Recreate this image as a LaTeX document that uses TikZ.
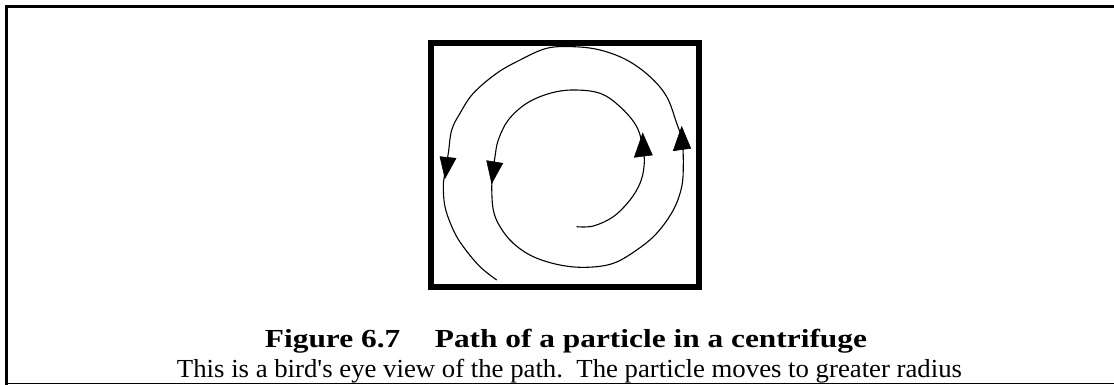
\documentclass[tikz,border=0pt]{standalone}
\usepackage{fontspec}
\usepackage{graphicx}
\setmainfont{Liberation Serif}[Ligatures=TeXOff]
\begin{document}
\begin{tikzpicture}[x=0.5pt,y=-0.5pt,
  frame/.style={line width=1.5pt},
  thinframe/.style={line width=0.7pt},
  boxline/.style={line width=3pt},
  pathline/.style={line width=0.55pt},
  head/.style={fill=black,draw=black,line width=0.3pt,line join=miter}]
\useasboundingbox (0,0) rectangle (1114,385);
% outer frame
\draw[frame] (1114,6.5) -- (6.5,6.5) -- (6.5,385);
\draw[thinframe] (5,383.5) -- (1114,383.5);
% inner box
\draw[boxline] (431,43) rectangle (699,287);
% spiral path
\draw[pathline] plot[smooth,tension=0.6] coordinates {
(576.7,226.7) (593.3,226) (613.3,216.7) (630,200) (640,183.3) (644,166.7)
(643.3,150) (636.7,126.7) (620,106.7) (600,93.3) (573.3,90) (550,93.3)
(526.7,103.3) (508.3,120) (498.3,140) (495,156.7) (492.5,175) (491.7,186.7)
(493.3,210) (500,226.7) (513.3,243.3) (533.3,256.7) (560,265) (586.7,267.3)
(613.3,263.3) (636.7,250) (656.7,233.3) (673.3,210) (681.7,186.7) (683.3,163.3)
(682,140) (676.7,123.3) (666.7,96.7) (650,76.7) (626.7,60) (600,50)
(573.3,46.7) (546.7,48.3) (520,60) (496.7,73.3) (473.3,93.3) (460,113.3)
(451.7,130) (448.3,153.3) (445,172) (443.3,183.3) (445,206.7) (453.3,230)
(463.3,246.7) (480,266.7) (496.7,280)};
% arrowheads
\filldraw[head] (642.7,133.3) -- (634.3,157.3) -- (652.3,155) -- cycle;
\filldraw[head] (681.7,126.7) -- (673.3,150.7) -- (690.7,148.3) -- cycle;
\filldraw[head] (491.7,183.3) -- (486.7,160.7) -- (502.7,163.3) -- cycle;
\filldraw[head] (445,178.3) -- (440,156.7) -- (456,158.3) -- cycle;
% caption
\node[anchor=base,inner sep=0pt] (title) at (566,347)
  {\resizebox{301pt}{\height}{\fontsize{13pt}{15pt}\selectfont\bfseries Figure 6.7\hspace{1.1em}Path of a particle in a centrifuge}};
\node[anchor=base,inner sep=0pt] (sub) at (569.5,377)
  {\resizebox{392.5pt}{\height}{\fontsize{13pt}{15pt}\selectfont This is a bird's eye view of the path.\ \ The particle moves to greater radius}};
\end{tikzpicture}
\end{document}
